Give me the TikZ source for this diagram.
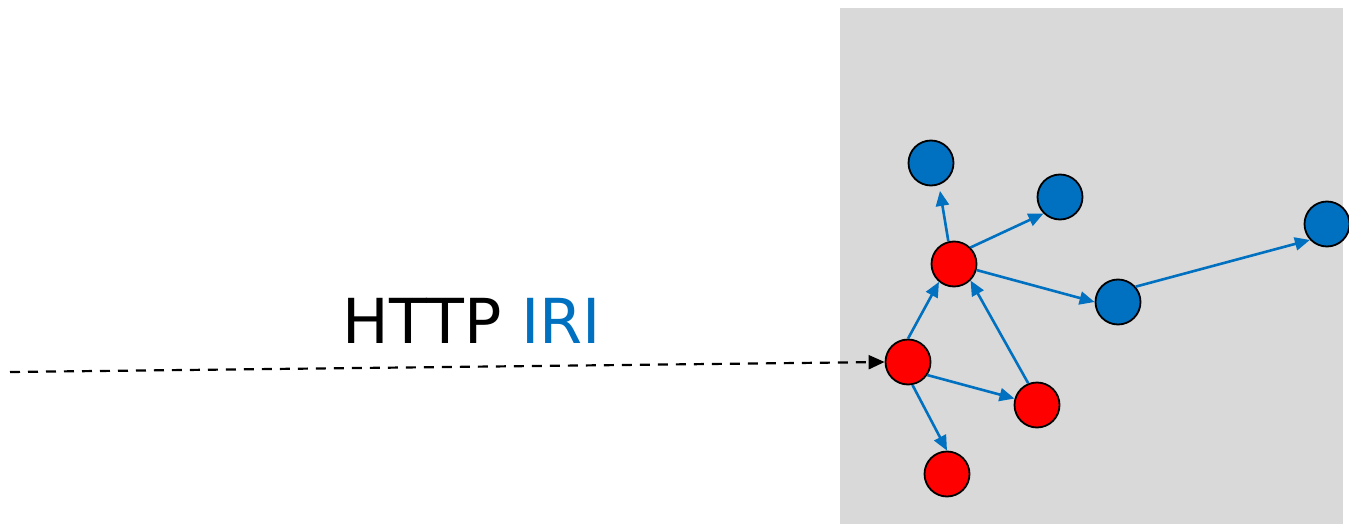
\documentclass[tikz,border=0pt]{standalone}
\usepackage{fontspec}
\setmainfont{DejaVu Sans}
\usetikzlibrary{arrows.meta}
\definecolor{nodeblue}{HTML}{0070C0}
\definecolor{nodered}{HTML}{FF0000}
\definecolor{panelgray}{HTML}{D9D9D9}
\begin{document}
\begin{tikzpicture}[x=1pt,y=-1pt,
  dot/.style={circle,draw=black,line width=1.8pt,minimum size=45pt,inner sep=0pt},
  bdot/.style={dot,fill=nodeblue},
  rdot/.style={dot,fill=nodered},
  link/.style={draw=nodeblue,line width=2.6pt,-{Triangle[length=15pt,width=13pt]}},
  entry/.style={draw=black,line width=2.2pt,dash pattern=on 10pt off 8pt,-{Triangle[length=16pt,width=14pt]}}]
\useasboundingbox (0,0) rectangle (1349,524);
\fill[white] (0,0) rectangle (1349,524);
\fill[panelgray] (840,8) rectangle (1343,524);
\node[bdot] (b1) at (931,163) {};
\node[bdot] (b2) at (1060,197) {};
\node[bdot] (b3) at (1327,224) {};
\node[bdot] (b4) at (1118,302) {};
\node[rdot] (r1) at (954,264) {};
\node[rdot] (r2) at (908,362) {};
\node[rdot] (r3) at (1037,405) {};
\node[rdot] (r4) at (947,474) {};
\draw[link,shorten >=6pt] (r1.104) -- (b1.290);
\draw[link] (r1.45) -- (b2.225);
\draw[link] (r1.-15) -- (b4.180);
\draw[link] (b4.41) -- (b3.223);
\draw[link] (r2.90) -- (r1.230);
\draw[link] (r3.112) -- (r1.-45);
\draw[link] (r2.-34) -- (r3.164);
\draw[link] (r2.-79) -- (r4.90);
\coordinate (src) at (10,372);
\draw[entry] (src) -- (r2.west);
\node[font=\fontsize{62}{70}\selectfont,inner sep=0pt] (lbl) at (472,321) {HTTP \textcolor{nodeblue}{IRI}};
\end{tikzpicture}
\end{document}
